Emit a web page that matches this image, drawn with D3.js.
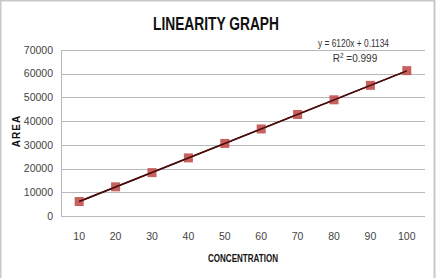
<!DOCTYPE html>
<html lang="en">
<head>
<meta charset="utf-8">
<title>Linearity graph</title>
<script src="https://d3js.org/d3.v7.min.js"></script>
<style>
  body { margin: 0; background: #fff; }
  svg { display: block; }
  text { font-family: "Liberation Sans", sans-serif; }
</style>
</head>
<body>
<div class="chart"></div>
<script>
// data
var concentrations = [10, 20, 30, 40, 50, 60, 70, 80, 90, 100];
var areas = [6100, 12300, 18300, 24500, 30600, 36700, 42800, 49000, 55100, 61300];
var yTicks = [0, 10000, 20000, 30000, 40000, 50000, 60000, 70000];
var slope = 6120, intercept = 0.1134;

var width = 439, height = 278;
var margin = {top: 50, right: 14, bottom: 62, left: 61};

var svg = d3.select(".chart").append("svg")
  .attr("width", width)
  .attr("height", height);

// outer frame (grey edge on top and right)
svg.append("rect")
  .attr("x", 0.5).attr("y", 0.5)
  .attr("width", 434).attr("height", 290)
  .attr("fill", "none")
  .attr("stroke", "#c8c8c8")
  .attr("stroke-width", 2);

var x = d3.scaleBand()
  .domain(concentrations)
  .range([margin.left, width - margin.right]);

var y = d3.scaleLinear()
  .domain([0, 70000])
  .range([height - margin.bottom, margin.top]);

// gridlines
svg.append("g")
  .selectAll("line")
  .data(yTicks)
  .enter().append("line")
  .attr("x1", margin.left)
  .attr("x2", width - margin.right)
  .attr("y1", function(d) { return Math.round(y(d)) + 0.5; })
  .attr("y2", function(d) { return Math.round(y(d)) + 0.5; })
  .attr("stroke", "#b8b8b8")
  .attr("stroke-width", 1);

// vertical axis line
svg.append("line")
  .attr("x1", margin.left + 0.5).attr("x2", margin.left + 0.5)
  .attr("y1", y(70000)).attr("y2", y(0))
  .attr("stroke", "#b8b8b8");

// y tick labels
svg.append("g")
  .selectAll("text")
  .data(yTicks)
  .enter().append("text")
  .attr("x", 53)
  .attr("y", function(d) { return y(d); })
  .attr("dy", "0.35em")
  .attr("text-anchor", "end")
  .attr("font-size", 10.5)
  .attr("fill", "#444")
  .text(function(d) { return d; });

// x tick labels
svg.append("g")
  .selectAll("text")
  .data(concentrations)
  .enter().append("text")
  .attr("x", function(d) { return x(d) + x.bandwidth() / 2; })
  .attr("y", 240)
  .attr("text-anchor", "middle")
  .attr("font-size", 10.5)
  .attr("fill", "#444")
  .text(function(d) { return d; });

// excel trendline: x is the category index 1..n
var cx = function(d) { return x(d) + x.bandwidth() / 2; };
var n = concentrations.length;
function trend() {
  svg.append("line")
    .attr("x1", cx(concentrations[0]))
    .attr("y1", y(slope * 1 + intercept))
    .attr("x2", cx(concentrations[n - 1]))
    .attr("y2", y(slope * n + intercept))
    .attr("stroke", "#4a0c0c")
    .attr("stroke-width", 1.6);
}
trend();

// markers
svg.append("g")
  .selectAll("rect")
  .data(concentrations)
  .enter().append("rect")
  .attr("x", function(d) { return cx(d) - 4.5; })
  .attr("y", function(d, i) { return y(areas[i]) - 4.5; })
  .attr("width", 9)
  .attr("height", 9)
  .attr("fill", "#c0504d")
  .attr("fill-opacity", 0.9);

// line again over the markers
trend();

// title (squeezed, the original font is a narrow one)
svg.append("text")
  .attr("x", 153).attr("y", 30)
  .attr("font-size", 19)
  .attr("font-weight", "bold")
  .attr("fill", "#111")
  .attr("textLength", 126)
  .attr("lengthAdjust", "spacingAndGlyphs")
  .text("LINEARITY GRAPH");

// equation
svg.append("text")
  .attr("x", 318).attr("y", 47)
  .attr("font-size", 10.5)
  .attr("fill", "#333")
  .attr("textLength", 71)
  .attr("lengthAdjust", "spacingAndGlyphs")
  .text("y = " + slope + "x + " + intercept);

var r2 = svg.append("text")
  .attr("x", 355).attr("y", 62)
  .attr("text-anchor", "middle")
  .attr("font-size", 10)
  .attr("fill", "#333");
r2.append("tspan").text("R");
r2.append("tspan").attr("dy", -4).attr("font-size", 6.5).text("2");
r2.append("tspan").attr("dy", 4).text(" =0.999");

// axis titles
svg.append("text")
  .attr("x", 208).attr("y", 262)
  .attr("font-size", 10)
  .attr("font-weight", "bold")
  .attr("fill", "#111")
  .attr("textLength", 70)
  .attr("lengthAdjust", "spacingAndGlyphs")
  .text("CONCENTRATION");

svg.append("text")
  .attr("transform", "translate(20,131) rotate(-90)")
  .attr("text-anchor", "middle")
  .attr("font-size", 10)
  .attr("font-weight", "bold")
  .attr("letter-spacing", 1)
  .attr("fill", "#111")
  .text("AREA");
</script>
</body>
</html>
